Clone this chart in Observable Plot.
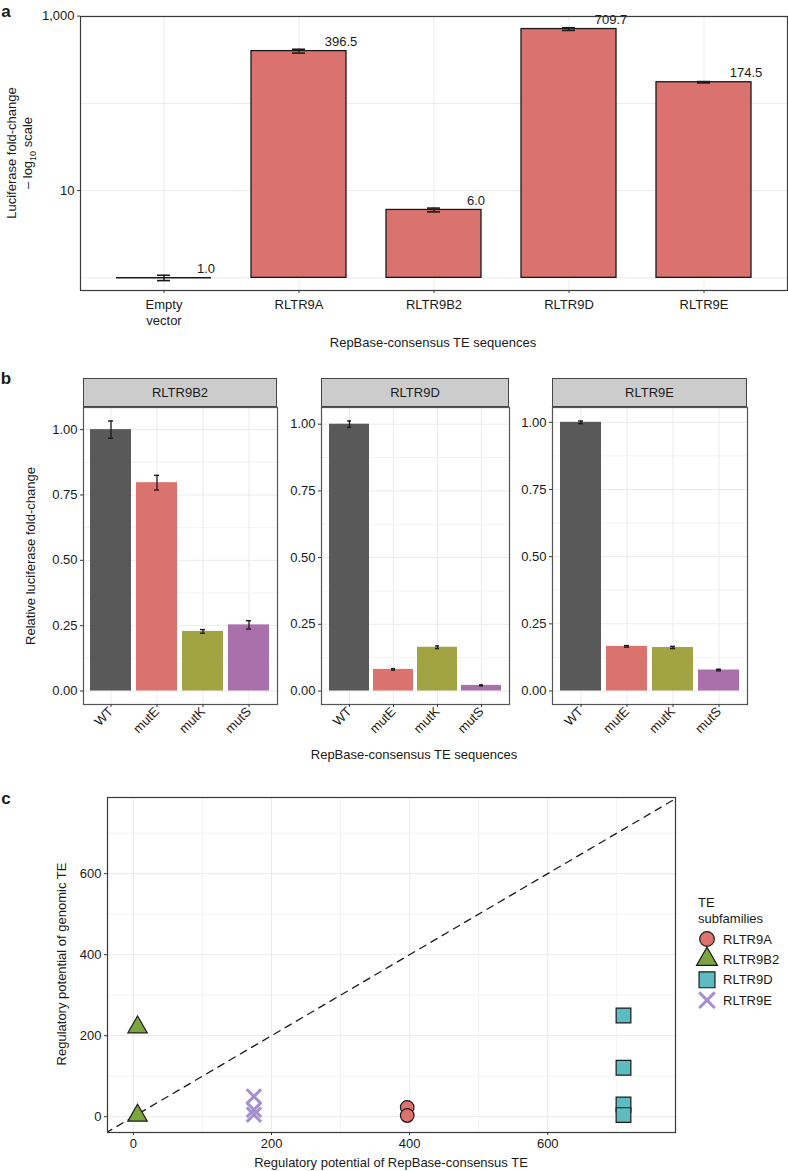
<!DOCTYPE html>
<html>
<head>
<meta charset="utf-8">
<script src="https://cdn.jsdelivr.net/npm/d3@7"></script>
<script src="https://cdn.jsdelivr.net/npm/@observablehq/plot@0.6"></script>
<style>
  html, body { margin: 0; padding: 0; background: #fff; }
  #root { position: relative; width: 788px; height: 1171px; overflow: hidden; background: #fff;
          font-family: "Liberation Sans", Arial, Helvetica, sans-serif; color: #1a1a1a; }
  .txt { position: absolute; white-space: nowrap; font-size: 13px; line-height: 16px; text-align: center; }
  .plbl { position: absolute; font-weight: bold; font-size: 17px; }
  .strip { position: absolute; background: #cccccc; border: 1px solid #444; box-sizing: border-box;
           font-size: 13px; display: flex; align-items: center; justify-content: center; }
  svg { position: absolute; overflow: visible; }
</style>
</head>
<body>
<div id="root"></div>
<script>
// ---------------- DATA ----------------
// Panel a
const categoriesA = ["Empty vector", "RLTR9A", "RLTR9B2", "RLTR9D", "RLTR9E"];
const foldChangeA = [1.0, 396.5, 6.0, 709.7, 174.5];
const foldErrA = [0.07, 20, 0.3, 25, 3];
const yTicksA = [10, 1000];
const gridA = [1, 10, 100, 1000];

// Panel b
const facetsB = ["RLTR9B2", "RLTR9D", "RLTR9E"];
const mutants = ["WT", "mutE", "mutK", "mutS"];
const relB2 = [1.00, 0.797, 0.228, 0.253];
const errB2 = [0.033, 0.028, 0.007, 0.016];
const relD = [1.00, 0.081, 0.164, 0.021];
const errD = [0.012, 0.003, 0.005, 0.002];
const relE = [1.00, 0.166, 0.162, 0.078];
const errE = [0.005, 0.003, 0.004, 0.003];
const yTicksB = [0, 0.25, 0.5, 0.75, 1];
const yMinorB = [0.125, 0.375, 0.625, 0.875];

// Panel c
const subfamilies = ["RLTR9A", "RLTR9B2", "RLTR9D", "RLTR9E"];
const consensusC = [396.5, 6.0, 709.7, 174.5];
const genomicRLTR9A = [23, 3];
const genomicRLTR9B2 = [221, 3];
const genomicRLTR9D = [250, 121, 30, 4];
const genomicRLTR9E = [50, 17, 5];
const ticksC = [0, 200, 400, 600];
const minorC = [100, 300, 500, 700];
const identityLine = [-40, 790];

// ---------------- STYLE ----------------
const FONT = '"Liberation Sans", Arial, Helvetica, sans-serif';
const barColorA = "#DA736D";
const mutantColors = ["#595959", "#DA736D", "#A2A343", "#A970AC"];
const colorsC = ["#DD736C", "#7DA53E", "#5DBCC1", "#A68FCF"];
const shapesC = ["circle", "triangle", "square", "times"];
const radiusC = {circle: 6.8, triangle: 7.2, square: 8.3, times: 6.6};
const GRID = "#ebebeb", GRID_MINOR = "#f3f3f3", BORDER = "#3a3a3a", INK = "#1a1a1a";
const baseStyle = {fontFamily: FONT, fontSize: "13px", color: INK, background: "transparent", overflow: "visible"};

const root = document.getElementById("root");
function place(node, left, top) {
  node.style.position = "absolute";
  node.style.left = left + "px";
  node.style.top = top + "px";
  root.appendChild(node);
}
function addText(html, cx, cy, rotate = false, cls = "txt") {
  const d = document.createElement("div");
  d.className = cls;
  d.innerHTML = html;
  d.style.left = cx + "px";
  d.style.top = cy + "px";
  d.style.transform = "translate(-50%,-50%)" + (rotate ? " rotate(-90deg)" : "");
  root.appendChild(d);
}

// ---------------- PANEL A ----------------
const tableA = categoriesA.map((c, i) => ({
  cat: c, v: foldChangeA[i], lo: foldChangeA[i] - foldErrA[i], hi: foldChangeA[i] + foldErrA[i]
}));
const plotA = Plot.plot({
  width: 788, height: 335,
  marginLeft: 80, marginRight: 1, marginTop: 16, marginBottom: 45,
  style: baseStyle,
  x: {domain: categoriesA, paddingInner: 0.3, paddingOuter: 0.25, label: null},
  y: {type: "log", domain: [10 ** -0.145, 10 ** 2.995], label: null},
  marks: [
    Plot.gridX({stroke: GRID, strokeOpacity: 1}),
    Plot.gridY(gridA, {stroke: GRID, strokeOpacity: 1}),
    Plot.barY(tableA.filter(d => d.v > 1), {x: "cat", y1: 1, y2: "v", fill: barColorA, stroke: INK, strokeWidth: 1.3}),
    Plot.tickY(tableA.filter(d => d.v <= 1), {x: "cat", y: "v", stroke: INK, strokeWidth: 1.5}),
    Plot.ruleX(tableA, {x: "cat", y1: "lo", y2: "hi", stroke: INK, strokeWidth: 1.5}),
    Plot.tickY(tableA, {x: "cat", y: "lo", insetLeft: 41, insetRight: 41, stroke: INK, strokeWidth: 1.6}),
    Plot.tickY(tableA, {x: "cat", y: "hi", insetLeft: 41, insetRight: 41, stroke: INK, strokeWidth: 1.6}),
    Plot.text(tableA, {x: "cat", y: "v", text: d => d.v.toFixed(1), dx: 42, dy: -9, fontSize: 13, fill: INK}),
    Plot.frame({stroke: BORDER, strokeWidth: 1.2}),
    Plot.axisX({tickSize: 3, tickPadding: 4, label: null, lineHeight: 1.25,
                tickFormat: d => d.replace(" ", "\n"), stroke: BORDER, fill: INK}),
    Plot.axisY(yTicksA, {tickSize: 3, tickPadding: 3, label: null, tickFormat: d3.format(","), stroke: BORDER, fill: INK})
  ]
});
place(plotA, 0, 0);
addText("a", 6, 12, false, "plbl");
addText("Luciferase fold-change<br>– log<sub style=\"font-size:9px;line-height:0\">10</sub> scale", 20, 153, true);
addText("RepBase-consensus TE sequences", 433, 343);

// ---------------- PANEL B ----------------
const facetSpecs = [
  {name: facetsB[0], rel: relB2, err: errB2, left: 83, right: 277},
  {name: facetsB[1], rel: relD, err: errD, left: 321, right: 509},
  {name: facetsB[2], rel: relE, err: errE, left: 552, right: 747}
];
const stripTop = 378, stripH = 29, panelBottomB = 704;
facetSpecs.forEach(spec => {
  const rows = mutants.map((m, i) => ({
    facet: spec.name, mut: m, v: spec.rel[i], lo: spec.rel[i] - spec.err[i], hi: spec.rel[i] + spec.err[i]
  }));
  const top = d3.max(rows, d => d.hi);
  const pad = 0.05 * top;
  const ml = 50, mr = 3, totalH = 372;
  const pw = spec.right - spec.left;
  const p = Plot.plot({
    width: ml + pw + mr, height: totalH,
    marginLeft: ml, marginRight: mr, marginTop: stripH, marginBottom: totalH - (panelBottomB - stripTop),
    style: baseStyle,
    x: {domain: mutants, paddingInner: 0.1, paddingOuter: 0.15, label: null},
    y: {domain: [-pad, top + pad], label: null},
    color: {domain: mutants, range: mutantColors},
    marks: [
      Plot.gridX({stroke: GRID, strokeOpacity: 1}),
      Plot.gridY(yMinorB, {stroke: GRID_MINOR, strokeOpacity: 1}),
      Plot.gridY(yTicksB, {stroke: GRID, strokeOpacity: 1}),
      Plot.barY(rows, {x: "mut", y: "v", fill: "mut"}),
      Plot.ruleX(rows, {x: "mut", y1: "lo", y2: "hi", stroke: INK, strokeWidth: 1.3}),
      Plot.tickY(rows, {x: "mut", y: "lo", insetLeft: 18, insetRight: 18, stroke: INK, strokeWidth: 1.4}),
      Plot.tickY(rows, {x: "mut", y: "hi", insetLeft: 18, insetRight: 18, stroke: INK, strokeWidth: 1.4}),
      Plot.frame({stroke: "#555", strokeWidth: 1.2}),
      Plot.axisX({tickRotate: -45, tickSize: 3, tickPadding: 2, label: null, stroke: BORDER, fill: INK}),
      Plot.axisY(yTicksB, {tickSize: 3, tickPadding: 3, label: null, tickFormat: d3.format(".2f"), stroke: BORDER, fill: INK})
    ]
  });
  place(p, spec.left - ml, stripTop);
  const s = document.createElement("div");
  s.className = "strip";
  s.textContent = spec.name;
  s.style.width = pw + "px";
  s.style.height = stripH + "px";
  place(s, spec.left, stripTop);
});
addText("b", 6, 379, false, "plbl");
addText("Relative luciferase fold-change", 31, 556, true);
addText("RepBase-consensus TE sequences", 414, 755);

// ---------------- PANEL C ----------------
const genomicBySub = [genomicRLTR9A, genomicRLTR9B2, genomicRLTR9D, genomicRLTR9E];
const tableC = subfamilies.flatMap((s, i) =>
  genomicBySub[i].map(g => ({sub: s, shape: shapesC[i], consensus: consensusC[i], genomic: g})));
const filledC = tableC.filter(d => d.shape !== "times");
const crossC = tableC.filter(d => d.shape === "times");

const plotC = Plot.plot({
  width: 788, height: 384,
  marginLeft: 107, marginRight: 113, marginTop: 10, marginBottom: 39,
  style: baseStyle,
  x: {domain: [-37.5, 785], label: null},
  y: {domain: [-39, 788], label: null},
  color: {domain: subfamilies, range: colorsC},
  symbol: {domain: subfamilies, range: shapesC},
  r: {type: "identity"},
  marks: [
    Plot.gridX(minorC, {stroke: GRID_MINOR, strokeOpacity: 1}),
    Plot.gridY(minorC, {stroke: GRID_MINOR, strokeOpacity: 1}),
    Plot.gridX(ticksC, {stroke: GRID, strokeOpacity: 1}),
    Plot.gridY(ticksC, {stroke: GRID, strokeOpacity: 1}),
    Plot.line(identityLine, {x: d => d, y: d => d, stroke: INK, strokeWidth: 1.3, strokeDasharray: "7,6", clip: true}),
    Plot.dot(filledC, {x: "consensus", y: "genomic", symbol: "sub", fill: "sub", stroke: INK, strokeWidth: 1.2,
                       r: d => radiusC[d.shape]}),
    Plot.dot(crossC, {x: "consensus", y: "genomic", symbol: "sub", stroke: "sub", strokeWidth: 3,
                      r: d => radiusC[d.shape]}),
    Plot.frame({stroke: BORDER, strokeWidth: 1.2}),
    Plot.axisX(ticksC, {tickSize: 3, tickPadding: 3, label: null, stroke: BORDER, fill: INK}),
    Plot.axisY(ticksC, {tickSize: 3, tickPadding: 3, label: null, stroke: BORDER, fill: INK})
  ]
});
place(plotC, 0, 787);
addText("c", 6, 799, false, "plbl");
addText("Regulatory potential of genomic TE", 62, 964, true);
addText("Regulatory potential of RepBase-consensus TE", 391, 1163);

// Legend (panel c)
const legend = d3.create("svg").attr("width", 98).attr("height", 125)
  .style("font-family", FONT).style("font-size", "13px");
legend.append("text").attr("x", 8).attr("y", 14.5).attr("fill", INK).text("TE");
legend.append("text").attr("x", 8).attr("y", 30.5).attr("fill", INK).text("subfamilies");
subfamilies.forEach((s, i) => {
  const cy = 47 + i * 20.4;
  const shape = shapesC[i];
  const r = radiusC[shape] * 1.08;
  const sym = {circle: d3.symbolCircle, triangle: d3.symbolTriangle, square: d3.symbolSquare, times: d3.symbolTimes}[shape];
  const path = legend.append("path").attr("transform", `translate(17,${cy})`)
    .attr("d", d3.symbol(sym, Math.PI * r * r)());
  if (shape === "times") path.attr("fill", "none").attr("stroke", colorsC[i]).attr("stroke-width", 3);
  else path.attr("fill", colorsC[i]).attr("stroke", INK).attr("stroke-width", 1.2);
  legend.append("text").attr("x", 33).attr("y", cy).attr("dy", "0.35em").attr("fill", INK).text(s);
});
place(legend.node(), 690, 892);
</script>
</body>
</html>
